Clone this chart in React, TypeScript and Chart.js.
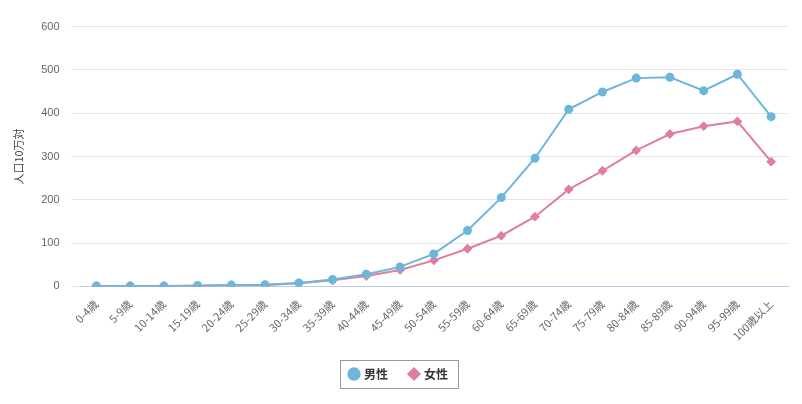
import React, { useEffect, useRef } from "react";
import { Chart, registerables } from "chart.js";
Chart.register(...registerables);

const categories = ["0-4歳","5-9歳","10-14歳","15-19歳","20-24歳","25-29歳","30-34歳","35-39歳","40-44歳","45-49歳","50-54歳","55-59歳","60-64歳","65-69歳","70-74歳","75-79歳","80-84歳","85-89歳","90-94歳","95-99歳","100歳以上"];
const male = [1,1,1,2,3,4,8,16,28,45,75,129,205,296,409,449,481,483,452,490,392];
const female = [1,1,1,1,2,3,7,14,24,38,60,87,117,161,224,267,314,352,370,381,288];

const legendBorder = {
  id: "legendBorder",
  afterDraw(chart: any) {
    const l = chart.legend;
    if (!l || !l.legendHitBoxes || !l.legendHitBoxes.length) return;
    const boxes = l.legendHitBoxes;
    let x0 = Infinity, x1 = -Infinity, y0 = Infinity, y1 = -Infinity;
    for (const b of boxes) {
      x0 = Math.min(x0, b.left); x1 = Math.max(x1, b.left + b.width);
      y0 = Math.min(y0, b.top); y1 = Math.max(y1, b.top + b.height);
    }
    const ctx = chart.ctx;
    ctx.save();
    ctx.strokeStyle = "#999";
    ctx.lineWidth = 1;
    ctx.strokeRect(Math.round(x0 - 10) + 0.5, Math.round(y0 - 8) + 0.5, Math.round(x1 - x0 + 20), Math.round(y1 - y0 + 16));
    ctx.restore();
  },
};

export default function App() {
  const ref = useRef<HTMLCanvasElement>(null);
  useEffect(() => {
    const chart = new Chart(ref.current!, {
      type: "line",
      data: {
        labels: categories,
        datasets: [
          { label: "男性", data: male, borderColor: "#6cb6dc", backgroundColor: "#6cb6dc", pointStyle: "circle", pointRadius: 3.5, borderWidth: 2 },
          { label: "女性", data: female, borderColor: "#e07ea0", backgroundColor: "#e07ea0", pointStyle: "rectRot", pointRadius: 3.5, borderWidth: 2 },
        ],
      },
      options: {
        animation: false,
        responsive: false,
        layout: { padding: { right: 4, top: 8, bottom: 6 } },
        plugins: {
          legend: {
            position: "bottom",
            labels: { usePointStyle: true, boxWidth: 8, boxHeight: 8, padding: 22, color: "#333", font: { family: "Noto Sans CJK JP", size: 12, weight: "bold" } },
          },
          tooltip: { enabled: false },
        },
        scales: {
          x: {
            offset: true,
            grid: { display: false },
            border: { color: "#b8cce4" },
            ticks: { color: "#666", maxRotation: 45, minRotation: 45, font: { family: "Noto Sans CJK JP", size: 11 } },
          },
          y: {
            min: 0, max: 600,
            ticks: { stepSize: 100, color: "#666", font: { size: 11 }, padding: 12 },
            grid: { color: "#e6e6e6" },
            border: { display: false },
            title: { display: true, text: "人口10万対", color: "#444", font: { family: "Noto Sans CJK JP", size: 11 } },
          },
        },
      },
      plugins: [legendBorder],
    });
    return () => chart.destroy();
  }, []);
  return <canvas ref={ref} width={786} height={388} />;
}
